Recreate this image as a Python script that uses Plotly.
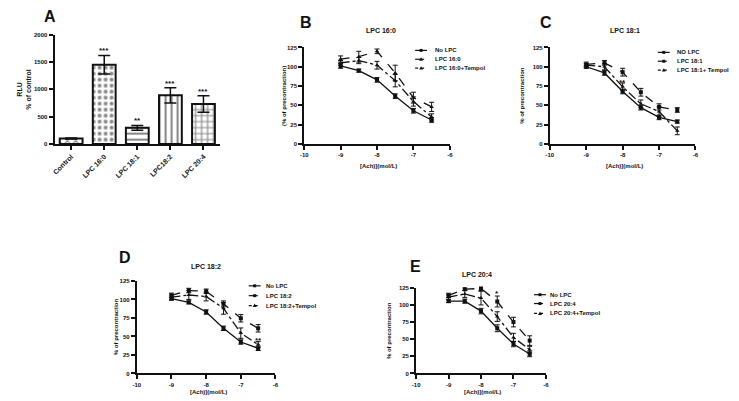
import plotly.graph_objects as go

W, H = 739, 401
OX, OY = 8, 8  # page offset of the plot div (body margin)

# ---------------- data ----------------
categories = ["Control", "LPC 16:0", "LPC 18:1", "LPC18:2", "LPC 20:4"]
rlu = [100, 1450, 295, 890, 730]
rlu_err = [10, 170, 45, 140, 150]
rlu_sig = ["", "***", "**", "***", "***"]
rlu_patterns = ["x", ".", "-", "|", "+"]
rlu_ticks = [0, 500, 1000, 1500, 2000]

ach = [-9, -8.5, -8, -7.5, -7, -6.5]
x_ticks = [-10, -9, -8, -7, -6]
x_ticklabels = ["-10", "-9", "-8", "-7", "-6"]
y_ticks = [0, 25, 50, 75, 100, 125]

b_nolpc = [101, 95, 83, 62, 43, 31]
b_nolpc_err = [3, 2, 3, 3, 3, 3]
b_lpc = [110, 113, 120, 92, 60, 48]
b_lpc_err = [4, 7, 3, 10, 7, 6]
b_tempol = [105, 108, 102, 82, 55, 35]
b_tempol_err = [3, 4, 5, 8, 6, 4]

c_nolpc = [100, 92, 68, 47, 34.5, 29]
c_nolpc_err = [2, 3, 3, 3, 3, 2]
c_lpc = [103, 105, 93, 67, 48, 44]
c_lpc_err = [3, 3, 5, 5, 4, 3]
c_tempol = [102, 100, 74, 52, 42, 17]
c_tempol_err = [2, 4, 5, 5, 6, 5]

d_nolpc = [101, 96, 83, 61, 42.5, 34]
d_nolpc_err = [2, 2, 3, 3, 3, 3]
d_lpc = [105.5, 112, 111, 94, 74.5, 61]
d_lpc_err = [3, 3, 3, 4, 5, 5]
d_tempol = [103, 106, 104, 88, 54.5, 39]
d_tempol_err = [3, 6, 6, 8, 7, 4]

e_nolpc = [105.5, 105.5, 91, 66, 43, 28.5]
e_nolpc_err = [2, 3, 4, 5, 4, 4]
e_lpc = [114, 123, 124, 105, 75, 48]
e_lpc_err = [3, 2, 3, 8, 7, 7]
e_tempol = [111.5, 116, 110, 83, 52.6, 34.7]
e_tempol_err = [3, 5, 10, 7, 6, 5]

FONT = "Liberation Sans, Arial, sans-serif"
BLACK = "#111111"


def fx(px):
    return (px - OX) / W


def fy(py):
    return 1 - (py - OY) / H


def txt(x, y, text, size=6, angle=0, xanchor="center", xref="paper", yref="paper"):
    return dict(x=x, y=y, xref=xref, yref=yref, text=text, showarrow=False,
                xanchor=xanchor, yanchor="middle", textangle=angle,
                font=dict(family=FONT, size=size, color=BLACK, weight="bold"))


fig = go.Figure()
annotations = []
shapes = []

# ---------------- panel A ----------------
fig.add_trace(go.Bar(
    x=categories, y=rlu,
    error_y=dict(type="data", array=rlu_err, color=BLACK, thickness=1.5, width=6),
    marker=dict(color="white", line=dict(color=BLACK, width=2),
                pattern=dict(shape=rlu_patterns, fgcolor=BLACK, bgcolor="white",
                             size=6, solidity=0.35)),
    xaxis="x", yaxis="y", showlegend=False, cliponaxis=False,
))
for c, v, e, s in zip(categories, rlu, rlu_err, rlu_sig):
    if s:
        a = txt(c, v + e, s, size=8, xref="x", yref="y")
        a["yanchor"] = "bottom"
        a["yshift"] = -2
        annotations.append(a)

axis_common = dict(showline=True, linecolor=BLACK, linewidth=2, ticks="outside",
                   ticklen=4, tickwidth=2, tickcolor=BLACK, showgrid=False, zeroline=False,
                   tickfont=dict(family=FONT, size=6, color=BLACK, weight="bold"))

layout = dict(
    width=W, height=H, margin=dict(l=0, r=0, t=0, b=0),
    paper_bgcolor="white", plot_bgcolor="white", bargap=0.31,
    xaxis=dict(domain=[fx(51), fx(218)], anchor="y", range=[-0.5, 4.5], tickangle=-45,
               **axis_common),
    yaxis=dict(domain=[fy(143), fy(32)], anchor="x", range=[0, 2000], tickvals=rlu_ticks,
               **axis_common),
)
layout["xaxis"]["tickfont"] = dict(family=FONT, size=7, color=BLACK, weight="bold")
annotations.append(txt(fx(46), fy(14), "A", size=16))
annotations.append(txt(fx(20), fy(88), "RLU<br>% of control", size=7, angle=-90))

# ---------------- line panels ----------------
panels = [
    dict(letter="B", title="LPC 16:0", idx=2, xdom=(303, 450), ydom=(45, 143),
         series=[(b_nolpc, b_nolpc_err), (b_lpc, b_lpc_err), (b_tempol, b_tempol_err)],
         names=["No LPC", "LPC 16:0", "LPC 16:0+Tempol"], lpc_sym="triangle-up",
         letter_pos=(305, 20), title_pos=(381, 28), ytitle="(% of precontraction)", ytitle_x=282,
         xtitle_y=165, leg_line=(415, 427), leg_text=433, leg_rows=(48, 57, 66), stars=[]),
    dict(letter="C", title="LPC 18:1", idx=3, xdom=(551, 698), ydom=(45, 143),
         series=[(c_nolpc, c_nolpc_err), (c_lpc, c_lpc_err), (c_tempol, c_tempol_err)],
         names=["NO LPC", "LPC 18:1", "LPC 18:1+ Tempol"], lpc_sym="square",
         letter_pos=(547, 20), title_pos=(627, 28), ytitle="% of precontraction", ytitle_x=523,
         xtitle_y=165, leg_line=(660, 672), leg_text=677, leg_rows=(50, 59, 68),
         stars=[(-8, 80, "**")]),
    dict(letter="D", title="LPC 18:2", idx=4, xdom=(134, 274), ydom=(282, 376),
         series=[(d_nolpc, d_nolpc_err), (d_lpc, d_lpc_err), (d_tempol, d_tempol_err)],
         names=["No LPC", "LPC 18:2", "LPC 18:2+Tempol"], lpc_sym="square",
         letter_pos=(122, 258), title_pos=(204, 267), ytitle="% of precontraction", ytitle_x=113,
         xtitle_y=395, leg_line=(247, 259), leg_text=262, leg_rows=(287, 297, 307),
         stars=[(-6.5, 45, "**")]),
    dict(letter="E", title="LPC 20:4", idx=5, xdom=(416, 547), ydom=(289, 376),
         series=[(e_nolpc, e_nolpc_err), (e_lpc, e_lpc_err), (e_tempol, e_tempol_err)],
         names=["No LPC", "LPC 20:4", "LPC 20:4+Tempol"], lpc_sym="square",
         letter_pos=(415, 267), title_pos=(477, 276), ytitle="% of precontraction", ytitle_x=388,
         xtitle_y=395, leg_line=(535, 547), leg_text=549, leg_rows=(296, 305, 315),
         stars=[(-7.5, 117, "*")]),
]

dashes = ["solid", "dash", "dashdot"]

for p in panels:
    i = p["idx"]
    xa, ya = f"x{i}", f"y{i}"
    syms = ["square", p["lpc_sym"], "triangle-up"]
    for (vals, errs), dash, sym, name in zip(p["series"], dashes, syms, p["names"]):
        fig.add_trace(go.Scatter(
            x=ach, y=vals, mode="lines+markers", name=name, showlegend=False,
            line=dict(color=BLACK, width=1.3, dash=dash),
            marker=dict(symbol=sym, size=4, color=BLACK),
            error_y=dict(type="data", array=errs, color=BLACK, thickness=1, width=2.5),
            xaxis=xa, yaxis=ya, cliponaxis=False,
        ))
    layout[f"xaxis{i}"] = dict(domain=[fx(p["xdom"][0]), fx(p["xdom"][1])], anchor=ya,
                               range=[-10, -6], tickvals=x_ticks, ticktext=x_ticklabels,
                               **axis_common)
    layout[f"yaxis{i}"] = dict(domain=[fy(p["ydom"][1]), fy(p["ydom"][0])], anchor=xa,
                               range=[0, 125], tickvals=y_ticks, **axis_common)
    lx, ly = p["letter_pos"]
    annotations.append(txt(fx(lx), fy(ly), p["letter"], size=16))
    tx, ty = p["title_pos"]
    annotations.append(txt(fx(tx), fy(ty), p["title"], size=7))
    annotations.append(txt(fx(p["ytitle_x"]), fy((p["ydom"][0] + p["ydom"][1]) / 2),
                           p["ytitle"], angle=-90))
    annotations.append(txt(fx((p["xdom"][0] + p["xdom"][1]) / 2 + 2), fy(p["xtitle_y"]),
                           "[Ach)](mol/L)"))
    for sx, sy, st in p["stars"]:
        annotations.append(txt(sx, sy, st, size=8, xref=xa, yref=ya))
    # legend (keys drawn as shapes, labels as text)
    l0, l1 = p["leg_line"]
    for row_y, dash, sym, name in zip(p["leg_rows"], dashes, syms, p["names"]):
        shapes.append(dict(type="line", xref="paper", yref="paper",
                           x0=fx(l0), x1=fx(l1), y0=fy(row_y), y1=fy(row_y),
                           line=dict(color=BLACK, width=1.2,
                                     dash="dot" if dash == "dashdot" else dash)))
        cx = (l0 + l1) / 2
        if sym == "square":
            shapes.append(dict(type="rect", xref="paper", yref="paper",
                               x0=fx(cx - 1.5), x1=fx(cx + 1.5), y0=fy(row_y + 1.5),
                               y1=fy(row_y - 1.5), fillcolor=BLACK, line=dict(width=0)))
        else:
            shapes.append(dict(type="path", xref="paper", yref="paper",
                               path=(f"M {fx(cx - 2)} {fy(row_y + 1.5)} L {fx(cx + 2)} "
                                     f"{fy(row_y + 1.5)} L {fx(cx)} {fy(row_y - 2)} Z"),
                               fillcolor=BLACK, line=dict(width=0)))
        annotations.append(txt(fx(p["leg_text"]), fy(row_y), name, xanchor="left"))

layout["annotations"] = annotations
layout["shapes"] = shapes
fig.update_layout(**layout)

fig.write_html("out.html")
